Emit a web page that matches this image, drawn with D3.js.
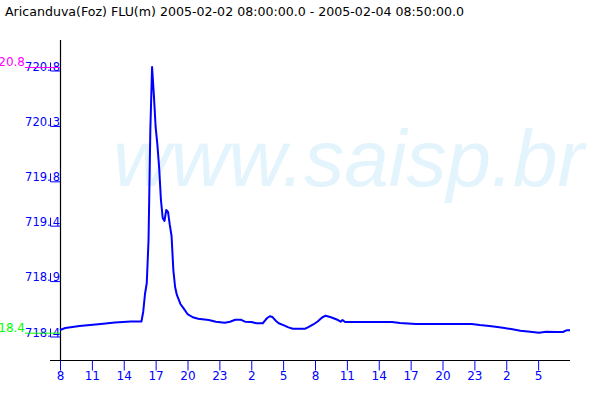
<!DOCTYPE html>
<html><head><meta charset="utf-8">
<script src="https://cdn.jsdelivr.net/npm/d3@7"></script>
<style>body{margin:0;background:#fff}svg{display:block}</style>
</head><body>
<script>
const titleText = "Aricanduva(Foz) FLU(m) 2005-02-02 08:00:00.0 - 2005-02-04 08:50:00.0";
const times = [
"2005-02-02 08:00","2005-02-02 08:30","2005-02-02 09:50","2005-02-02 11:50","2005-02-02 13:10","2005-02-02 14:40",
"2005-02-02 15:40","2005-02-02 15:50","2005-02-02 16:00","2005-02-02 16:10","2005-02-02 16:20","2005-02-02 16:30",
"2005-02-02 16:40","2005-02-02 16:50","2005-02-02 17:00","2005-02-02 17:10","2005-02-02 17:20","2005-02-02 17:30",
"2005-02-02 17:40","2005-02-02 17:50","2005-02-02 18:00","2005-02-02 18:10","2005-02-02 18:20","2005-02-02 18:30",
"2005-02-02 18:40","2005-02-02 18:50","2005-02-02 19:00","2005-02-02 19:20","2005-02-02 19:40","2005-02-02 20:00",
"2005-02-02 20:30","2005-02-02 21:00","2005-02-02 22:00","2005-02-02 22:40","2005-02-02 23:30",
"2005-02-03 00:00","2005-02-03 00:30","2005-02-03 01:00","2005-02-03 01:25","2005-02-03 02:00","2005-02-03 02:30",
"2005-02-03 03:05","2005-02-03 03:20","2005-02-03 03:30","2005-02-03 03:45","2005-02-03 04:00","2005-02-03 04:20",
"2005-02-03 04:35","2005-02-03 05:05","2005-02-03 05:30","2005-02-03 05:55","2005-02-03 07:05","2005-02-03 07:20",
"2005-02-03 07:50","2005-02-03 08:15","2005-02-03 08:40","2005-02-03 09:00","2005-02-03 09:30","2005-02-03 10:10",
"2005-02-03 10:25","2005-02-03 10:35","2005-02-03 10:50","2005-02-03 15:15","2005-02-03 16:00","2005-02-03 17:30",
"2005-02-03 22:45","2005-02-03 23:30",
"2005-02-04 00:25","2005-02-04 01:10","2005-02-04 01:50","2005-02-04 02:35","2005-02-04 03:20","2005-02-04 04:15",
"2005-02-04 05:05","2005-02-04 05:45","2005-02-04 06:50","2005-02-04 07:20","2005-02-04 07:40","2005-02-04 08:00"
];
const levels = [
718.427,718.445,718.463,718.481,718.495,718.503,
718.504,718.592,718.752,718.851,719.239,720.223,
720.800,720.548,720.259,720.098,719.889,719.600,
719.438,719.411,719.510,719.492,719.375,719.275,
718.969,718.815,718.743,718.662,718.617,718.571,
718.542,718.529,718.517,718.502,718.493,
718.502,718.520,718.520,718.502,718.499,718.488,
718.488,718.517,718.535,718.551,718.544,718.508,
718.488,718.469,718.451,718.439,718.439,718.451,
718.477,718.504,718.540,718.556,718.542,718.517,
718.502,718.517,718.499,718.499,718.490,718.481,
718.481,718.472,
718.463,718.454,718.445,718.433,718.421,718.412,
718.403,718.412,718.409,718.409,718.424,718.424
];
const yTickValues = [720.8, 720.3, 719.8, 719.4, 718.9, 718.4];
const xStart = "2005-02-02 08:00", xEnd = "2005-02-04 08:00", xTickStop = "2005-02-04 06:00";
const maxLabel = "720.8", minLabel = "718.4";

const parse = d3.timeParse("%Y-%m-%d %H:%M");
const data = times.map((t,i)=>({t:parse(t), v:levels[i]}));
const W=600,H=400;
const svg = d3.select("body").append("svg").attr("width",W).attr("height",H);
const font = "DejaVu Sans, Verdana, sans-serif";

const x = d3.scaleTime().domain([parse(xStart), parse(xEnd)]).range([60,570]);
const y = d3.scaleLinear().domain([718.4, 720.8]).range([333,67]);

// watermark
svg.append("text").attr("x",113).attr("y",186)
  .attr("font-family","Liberation Sans, Arial, sans-serif").attr("font-style","italic")
  .attr("font-size",80).attr("fill","#e3f4fc").text("www.saisp.br");

// title
svg.append("text").attr("x",5).attr("y",16).attr("font-family",font).attr("font-size",12.6)
  .attr("fill","#000").text(titleText);

// axes lines
svg.append("line").attr("x1",60.5).attr("x2",60.5).attr("y1",40).attr("y2",360).attr("stroke","#000").attr("stroke-width",1.2);
svg.append("line").attr("x1",50).attr("x2",570).attr("y1",360.5).attr("y2",360.5).attr("stroke","#000").attr("stroke-width",1.2);

// x axis
const xTicks = d3.timeHour.range(parse(xStart), parse(xTickStop), 3);
const xAxis = d3.axisBottom(x).tickValues(xTicks).tickFormat(d3.timeFormat("%-H")).tickSize(10).tickPadding(1).tickSizeOuter(0);
const gx = svg.append("g").attr("transform","translate(0,360.5)").call(xAxis);
gx.select(".domain").remove();
gx.selectAll(".tick line").attr("stroke","#0000ff");
gx.selectAll(".tick text").attr("fill","#0000ff").attr("font-family",font).attr("font-size",12);

// y axis
const fmt = d3.format(".1f");
const yAxis = d3.axisLeft(y).tickValues(yTickValues).tickFormat(fmt).tickSize(0).tickPadding(0);
const gy = svg.append("g").attr("transform","translate(60,0)").call(yAxis);
gy.select(".domain").remove();
gy.selectAll(".tick line").remove();
gy.selectAll(".tick text").attr("fill","#0000ff").attr("font-family",font).attr("font-size",11.5)
  .attr("dy",null).attr("y",3).attr("x",0)
  .each(function(d){
    const s = fmt(d), t = d3.select(this);
    t.text(null);
    t.append("tspan").text(s.slice(0,-1));
    t.append("tspan").attr("dx",2).text(s.slice(-1));
  });
gy.selectAll(".tick").append("path").attr("d","M-9.5,-5V3.5H0").attr("fill","none").attr("stroke","#0000ff");

// max / min markers
const ext = d3.extent(levels);
svg.append("line").attr("x1",25).attr("x2",60).attr("y1",y(ext[1])+0.5).attr("y2",y(ext[1])+0.5).attr("stroke","#ff00ff");
svg.append("text").attr("x",25).attr("y",y(ext[1])-1).attr("text-anchor","end").attr("font-family",font).attr("font-size",12).attr("fill","#ff00ff").text(maxLabel);
svg.append("line").attr("x1",25).attr("x2",60).attr("y1",y(ext[0])+0.5).attr("y2",y(ext[0])+0.5).attr("stroke","#00ff00");
svg.append("text").attr("x",25).attr("y",y(ext[0])-1).attr("text-anchor","end").attr("font-family",font).attr("font-size",12).attr("fill","#00ff00").text(minLabel);

// data line
const line = d3.line().x(d=>x(d.t)).y(d=>y(d.v));
svg.append("path").datum(data).attr("d",line).attr("fill","none").attr("stroke","#0000ff").attr("stroke-width",2).attr("stroke-linejoin","round");
</script>
</body></html>
